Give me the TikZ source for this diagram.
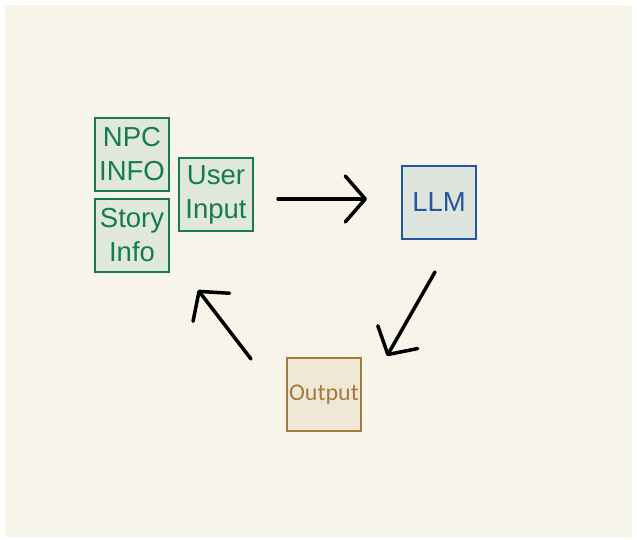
\documentclass[tikz,border=0pt]{standalone}
\usepackage{fontspec}
\setmainfont{Liberation Sans}
\newfontfamily\outfont{Carlito}
\usetikzlibrary{arrows.meta}
\definecolor{bgbeige}{HTML}{F7F5E9}
\definecolor{grnline}{HTML}{187A55}
\definecolor{grnfill}{HTML}{DFE8DA}
\definecolor{bluline}{HTML}{2357A2}
\definecolor{blufill}{HTML}{DEE4DE}
\definecolor{outline}{HTML}{A57B3B}
\definecolor{outfill}{HTML}{EFE8D6}
\tikzset{
  gbox/.style={draw=grnline, fill=grnfill, text=grnline, line width=2pt,
    minimum width=74pt, minimum height=73pt, inner sep=0pt, align=center,
    font=\fontsize{27.5}{34}\selectfont},
  bbox/.style={draw=bluline, fill=blufill, text=bluline, line width=2pt,
    minimum width=74pt, minimum height=73pt, inner sep=0pt,
    font=\fontsize{27.5}{34}\selectfont},
  obox/.style={draw=outline, fill=outfill, text=outline, line width=2pt,
    minimum width=74pt, minimum height=73pt, inner sep=0pt,
    font=\outfont\fontsize{24}{28}\selectfont},
  flow/.style={line width=3.5pt, line cap=round, line join=round,
    -{Straight Barb[length=20pt,width=46pt,round]}}
}
\begin{document}
\begin{tikzpicture}[x=1pt,y=-1pt]
\useasboundingbox (0,0) rectangle (637,539);
\fill[white] (0,0) rectangle (637,539);
\fill[bgbeige, rounded corners=2pt] (5,5) rectangle (632,537);
\node[gbox] (npc) at (132,154.5) {NPC\\INFO};
\node[gbox] (story) at (132,235) {Story\\Info};
\node[gbox] (user) at (216,194.5) {User\\Input};
\node[bbox] (llm) at (439,202.5) {LLM};
\node[obox] (out) at (324,394.5) {Output};
\coordinate (a1s) at (278,199);
\coordinate (a1e) at (367,199);
\coordinate (a2s) at (435,272);
\coordinate (a2e) at (387,356);
\coordinate (a3s) at (251,359);
\coordinate (a3e) at (198,290);
\draw[flow] (a1s) -- (a1e);
\draw[flow] (a2s) -- (a2e);
\draw[flow] (a3s) -- (a3e);
\end{tikzpicture}
\end{document}
